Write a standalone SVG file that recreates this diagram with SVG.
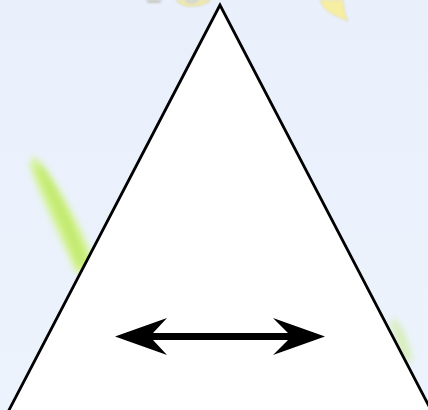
<svg xmlns="http://www.w3.org/2000/svg" width="428" height="410" viewBox="0 0 428 410">
  <defs>
    <filter id="blur" x="-50%" y="-50%" width="200%" height="200%">
      <feGaussianBlur stdDeviation="3.5"/>
    </filter>
    <filter id="blurS" x="-50%" y="-50%" width="200%" height="200%">
      <feGaussianBlur stdDeviation="0.8"/>
    </filter>
    <linearGradient id="bg" x1="0" y1="0" x2="0" y2="1">
      <stop offset="0" stop-color="#e9f0fc"/>
      <stop offset="1" stop-color="#ecf3fc"/>
    </linearGradient>
  </defs>
  <style>
    .tri { fill: #ffffff; stroke: #000000; stroke-width: 2.8; stroke-linejoin: miter; }
    .arrow { fill: #000000; }
  </style>
  <g id="background">
    <rect x="0" y="0" width="428" height="410" fill="url(#bg)"/>
    <path d="M146,0 L162,0 L160,3 L148,3 Z" fill="#c8c8c0" filter="url(#blurS)"/>
    <path d="M176,0 C180,7 196,9 209,2 L210,0 Z" fill="#f3eca8" stroke="#d8d4b8" stroke-width="1" filter="url(#blurS)"/>
    <ellipse cx="192" cy="1" rx="7" ry="3" fill="#d8d8cc" filter="url(#blurS)"/>
    <path d="M320,0 C322,10 334,16 348,21 C344,12 344,5 343,0 Z" fill="#f6eea0" stroke="#e0dcc0" stroke-width="1" filter="url(#blurS)"/>
    <path d="M34,156 C50,172 76,215 94,262 C90,272 82,276 76,272 C60,235 42,200 30,165 Z" fill="#d2f28c" filter="url(#blur)"/>
    <path d="M40,165 C54,185 72,222 86,262 L80,266 C66,230 50,198 38,170 Z" fill="#bfe86a" filter="url(#blur)"/>
    <path d="M395,318 C404,330 410,345 412,362 L402,360 C398,345 394,332 390,322 Z" fill="#c8ea88" opacity="0.6" filter="url(#blur)"/>
  </g>
  <g id="triangle">
    <polygon class="tri" points="220,5 8,412 432,412"/>
  </g>
  <g id="connectors">
    <path id="double-arrow" class="arrow" d="M115,336.5 L167,318 L153,333 L288,333 L273,318 L325,336.5 L273,355 L288,340 L153,340 L167,355 Z"/>
  </g>
</svg>
